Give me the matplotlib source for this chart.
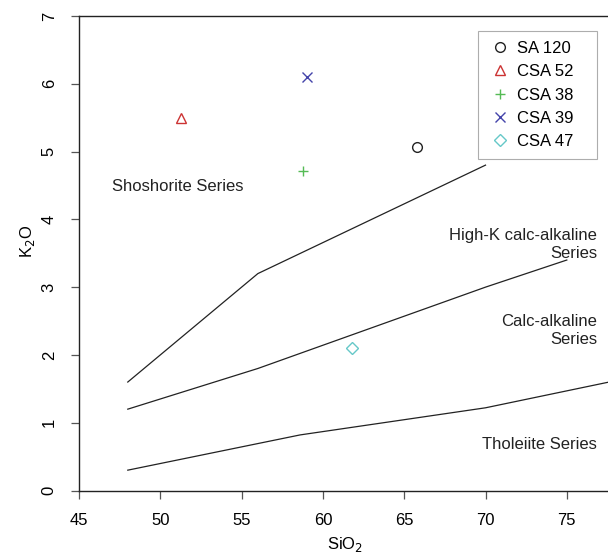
import matplotlib
matplotlib.use("Agg")
import matplotlib.pyplot as plt

plt.rcParams['font.family'] = ['Liberation Sans', 'DejaVu Sans']

# sample points (SiO2, K2O)
samples = ['SA 120', 'CSA 52', 'CSA 38', 'CSA 39', 'CSA 47']
sio2 = [65.8, 51.25, 58.8, 59.05, 61.8]
k2o = [5.07, 5.5, 4.72, 6.1, 2.1]
markers = ['o', '^', '+', 'x', 'D']
colors = ['#222222', '#CC3333', '#55BB55', '#4444AA', '#66C8C8']

# series boundaries
shosh_x = [48, 56, 70]
shosh_y = [1.6, 3.2, 4.8]
highk_x = [48, 56, 63, 70, 75]
highk_y = [1.2, 1.8, 2.4, 3.0, 3.4]
thol_x = [48, 58.6, 70, 78]
thol_y = [0.3, 0.82, 1.22, 1.62]

xticks = [45, 50, 55, 60, 65, 70, 75]
yticks = [0, 1, 2, 3, 4, 5, 6, 7]

W, H = 608, 558
fig = plt.figure(figsize=(W / 100, H / 100), dpi=100)
# axes runs past the right edge of the picture (cropped original)
x0, y0, y1 = 79, 490.5, 16
px_per_unit = 16.26
ax = fig.add_axes([x0 / W, (H - y0) / H, 35 * px_per_unit / W, (y0 - y1) / H])

for xs, ys in [(shosh_x, shosh_y), (highk_x, highk_y), (thol_x, thol_y)]:
    ax.plot(xs, ys, color='#222222', lw=0.9)

for name, x, y, m, c in zip(samples, sio2, k2o, markers, colors):
    size = 6 if m == 'D' else 7
    if m in ('+', 'x'):
        ax.plot([x], [y], m, color=c, ms=size, mew=1, ls='none', label=name)
    else:
        ax.plot([x], [y], m, mfc='none', mec=c, ms=size, mew=1, ls='none', label=name)

tc = '#222222'
ax.text(47.0, 4.49, 'Shoshorite Series', ha='left', va='center', fontsize=12, color=tc)
ax.text(76.86, 3.63, 'High-K calc-alkaline\nSeries', ha='right', va='center',
        fontsize=12, color=tc, multialignment='right', linespacing=1.2)
ax.text(76.86, 2.36, 'Calc-alkaline\nSeries', ha='right', va='center',
        fontsize=12, color=tc, multialignment='right', linespacing=1.2)
ax.text(76.86, 0.68, 'Tholeiite Series', ha='right', va='center', fontsize=12, color=tc)

ax.set_xlim(45, 80)
ax.set_ylim(0, 7)
ax.set_xticks(xticks)
ax.set_yticks(yticks)
ax.tick_params(axis='both', direction='out', length=6, width=0.9, color='#555555',
               labelsize=12, pad=10)
for lab in ax.get_yticklabels():
    lab.set_rotation(90)
    lab.set_va('center')
for s in ['left', 'top', 'bottom']:
    ax.spines[s].set_linewidth(1)
    ax.spines[s].set_color('#222222')
ax.spines['right'].set_visible(False)

ax.set_xlabel('SiO$_2$', fontsize=12)
ax.set_ylabel('K$_2$O', fontsize=12)
ax.xaxis.set_label_coords(0.4675, -0.094)
ax.yaxis.set_label_coords(-0.074, 0.524)

# R-style legend box: wider than its contents, extra room on the right
leg = ax.legend(loc='upper left', bbox_to_anchor=(478 / W, 1 - 31 / H, 119 / W, 0),
                bbox_transform=fig.transFigure, mode='expand', fontsize=12,
                frameon=True, fancybox=False, edgecolor='#999999',
                handlelength=1.44, handletextpad=0.3, labelspacing=0.5,
                borderpad=0.6, borderaxespad=0)
leg.get_frame().set_linewidth(0.8)

fig.savefig('out.png', dpi=100)
